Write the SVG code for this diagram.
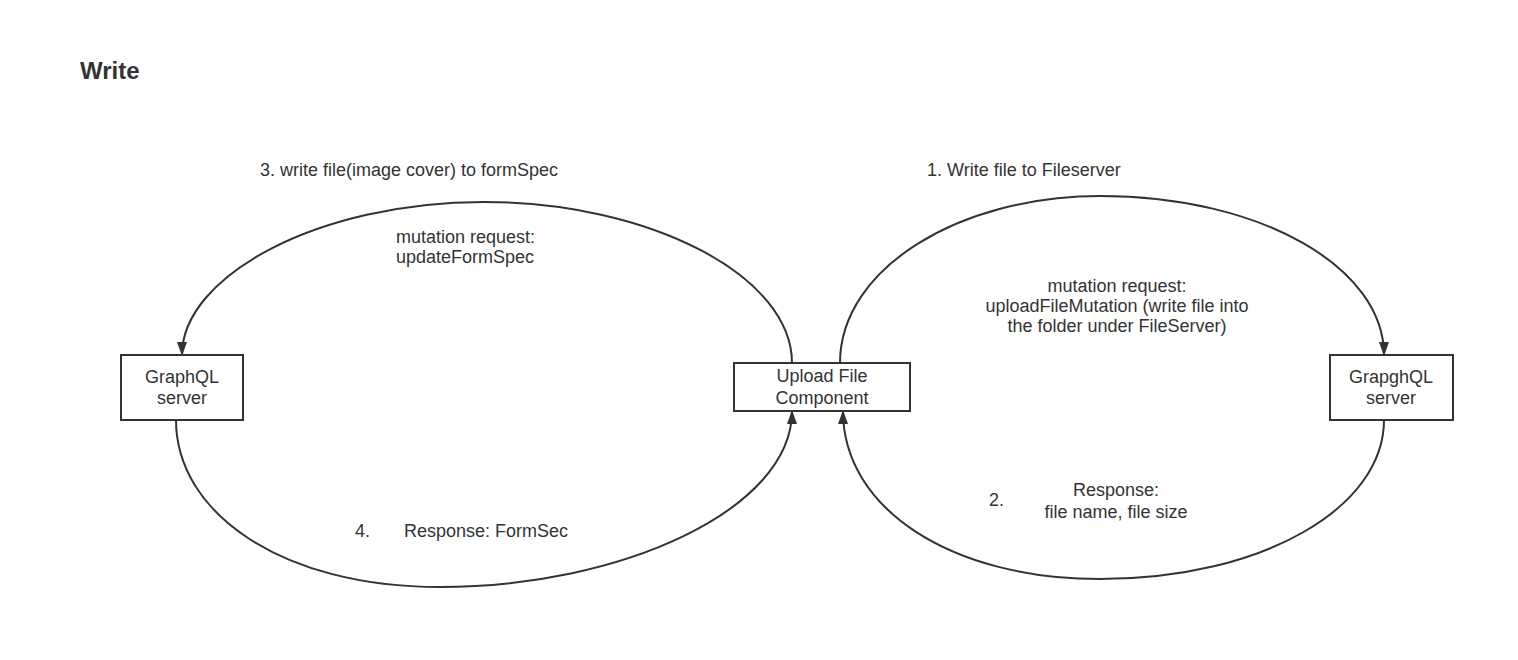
<svg xmlns="http://www.w3.org/2000/svg" width="1518" height="660" viewBox="0 0 1518 660">
<style>
text{font-family:"Liberation Sans",Arial,sans-serif;font-size:18px;fill:#333}
.c{text-anchor:middle}
.box{fill:#fff;stroke:#333;stroke-width:2}
.ln{fill:none;stroke:#333;stroke-width:2}
</style>
<defs>
<marker id="ah" viewBox="0 0 14 10" refX="13" refY="5" markerWidth="14" markerHeight="10" markerUnits="userSpaceOnUse" orient="auto">
<path d="M0,0 L14,5 L0,10 Z" fill="#333"/>
</marker>
</defs>
<rect width="1518" height="660" fill="#fff"/>
<text x="80" y="79" style="font-size:24px;font-weight:bold">Write</text>
<g id="connectors">
<path class="ln" marker-end="url(#ah)" d="M792,363 C792,276 650,202 484,202 C318,202 182,276 182,355"/>
<path class="ln" marker-end="url(#ah)" d="M176,420 C176,512 280,587 440,587 C620,587 792,510 792,411"/>
<path class="ln" marker-end="url(#ah)" d="M840,363 C840,268 960,196 1100,196 C1262,196 1384,268 1384,355"/>
<path class="ln" marker-end="url(#ah)" d="M1384,420 C1384,508 1262,579 1100,579 C950,579 843,508 843,411"/>
</g>
<g id="labels">
<text x="260" y="176">3. write file(image cover) to formSpec</text>
<text x="927" y="176">1. Write file to Fileserver</text>
<text x="396" y="243">mutation request:</text>
<text x="396" y="263">updateFormSpec</text>
<text class="c" x="1117" y="292">mutation request:</text>
<text class="c" x="1117" y="312">uploadFileMutation (write file into</text>
<text class="c" x="1117" y="332">the folder under FileServer)</text>
<text x="989" y="506">2.</text>
<text class="c" x="1116" y="496">Response:</text>
<text class="c" x="1116" y="518">file name, file size</text>
<text x="355" y="537">4.</text>
<text x="404" y="537">Response: FormSec</text>
</g>
<g id="graphql-left">
<rect class="box" x="121" y="355" width="122" height="65"/>
<text class="c" x="182" y="383">GraphQL</text>
<text class="c" x="182" y="404">server</text>
</g>
<g id="upload">
<rect class="box" x="734" y="363" width="176" height="48"/>
<text class="c" x="822" y="382">Upload File</text>
<text class="c" x="822" y="404">Component</text>
</g>
<g id="graphql-right">
<rect class="box" x="1330" y="355" width="123" height="65"/>
<text class="c" x="1391" y="383">GrapghQL</text>
<text class="c" x="1391" y="404">server</text>
</g>
</svg>
